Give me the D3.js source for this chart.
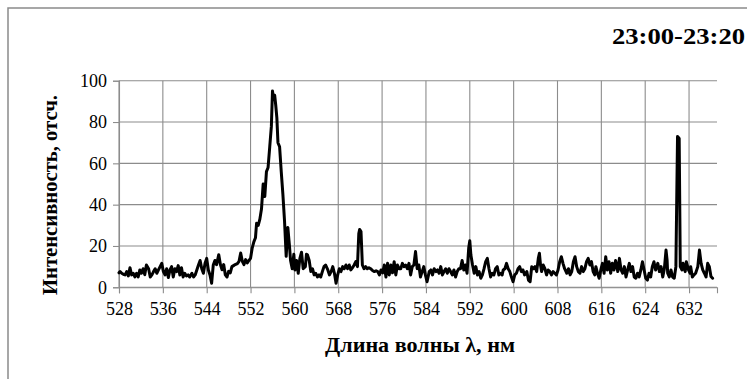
<!DOCTYPE html>
<html>
<head>
<meta charset="utf-8">
<script src="https://cdn.jsdelivr.net/npm/d3@7"></script>
<style>
  html, body { margin: 0; padding: 0; background: #fff; }
  svg { display: block; }
  .tick text { font-family: "Liberation Serif", "Times New Roman", serif; font-size: 18px; fill: #000; }
</style>
</head>
<body>
<svg id="chart" width="747" height="379"></svg>
<script>
// Spectrum, 23:00-23:20: wavelength (nm) and intensity (counts)
const wavelength = [
  528.0, 528.2, 528.5, 528.8, 529.1, 529.4, 529.7, 530.0, 530.3, 530.6,
  530.9, 531.2, 531.5, 531.8, 532.1, 532.4, 532.7, 533.0, 533.4, 533.7,
  534.0, 534.3, 534.6, 534.9, 535.2, 535.5, 535.8, 536.1, 536.4, 536.7,
  537.0, 537.3, 537.6, 537.9, 538.2, 538.5, 538.8, 539.1, 539.4, 539.7,
  540.0, 540.3, 540.6, 540.9, 541.3, 541.6, 541.9, 542.2, 542.5, 542.8,
  543.1, 543.4, 543.7, 544.0, 544.3, 544.6, 544.9, 545.2, 545.5, 545.8,
  546.2, 546.5, 546.8, 547.1, 547.4, 547.7, 548.0, 548.3, 548.6, 548.9,
  549.2, 549.6, 549.9, 550.2, 550.5, 550.8, 551.1, 551.4, 551.7, 552.0,
  552.3, 552.6, 552.9, 553.1, 553.4, 553.7, 554.0, 554.3, 554.6, 554.9,
  555.2, 555.5, 555.8, 556.0, 556.2, 556.4, 556.6, 556.8, 557.0, 557.3,
  557.6, 557.9, 558.2, 558.5, 558.8, 559.1, 559.3, 559.6, 559.9, 560.1,
  560.4, 560.7, 561.0, 561.3, 561.6, 562.0, 562.2, 562.4, 562.7, 563.0,
  563.3, 563.6, 563.9, 564.2, 564.5, 564.8, 565.1, 565.4, 565.7, 566.1,
  566.4, 566.7, 567.0, 567.3, 567.6, 567.9, 568.2, 568.5, 568.8, 569.1,
  569.4, 569.7, 570.0, 570.3, 570.6, 570.9, 571.2, 571.5, 571.75, 571.9,
  572.15, 572.4, 572.7, 573.0, 573.3, 573.6, 573.9, 574.3, 574.6, 574.9,
  575.2, 575.5, 575.8, 576.1, 576.4, 576.7, 577.0, 577.3, 577.6, 577.9,
  578.2, 578.5, 578.8, 579.1, 579.4, 579.7, 580.0, 580.3, 580.6, 580.9,
  581.2, 581.5, 581.8, 582.1, 582.4, 582.7, 583.0, 583.3, 583.6, 583.9,
  584.2, 584.6, 584.9, 585.2, 585.5, 585.8, 586.1, 586.4, 586.7, 587.0,
  587.3, 587.6, 587.9, 588.2, 588.5, 588.8, 589.1, 589.4, 589.7, 590.0,
  590.3, 590.6, 590.9, 591.2, 591.5, 591.8, 592.0, 592.2, 592.5, 592.8,
  593.1, 593.4, 593.7, 594.0, 594.3, 594.6, 594.9, 595.2, 595.5, 595.8,
  596.1, 596.4, 596.7, 597.0, 597.3, 597.6, 597.9, 598.1, 598.4, 598.7,
  599.0, 599.3, 599.6, 599.9, 600.2, 600.5, 600.8, 601.1, 601.4, 601.7,
  602.0, 602.4, 602.7, 603.0, 603.3, 603.6, 603.9, 604.2, 604.5, 604.7,
  604.9, 605.1, 605.4, 605.7, 606.0, 606.3, 606.6, 606.9, 607.2, 607.5,
  607.8, 608.1, 608.4, 608.7, 609.0, 609.3, 609.7, 610.0, 610.3, 610.6,
  610.9, 611.2, 611.5, 611.8, 612.1, 612.4, 612.7, 613.0, 613.3, 613.6,
  613.9, 614.2, 614.5, 614.8, 615.0, 615.3, 615.6, 615.9, 616.2, 616.5,
  616.8, 617.1, 617.4, 617.7, 618.0, 618.3, 618.6, 619.0, 619.3, 619.6,
  619.9, 620.2, 620.5, 620.8, 621.1, 621.4, 621.7, 622.0, 622.3, 622.6,
  622.9, 623.2, 623.5, 623.8, 624.1, 624.4, 624.7, 625.0, 625.3, 625.6,
  625.9, 626.3, 626.6, 626.9, 627.2, 627.5, 627.8, 628.0, 628.1, 628.4,
  628.7, 629.0, 629.3, 629.6, 629.9, 630.2, 630.4, 630.7, 630.9, 631.3,
  631.5, 631.9, 632.2, 632.3, 632.6, 632.9, 633.2, 633.6, 633.9, 634.2,
  634.5, 634.8, 635.1, 635.4, 635.7, 636.0, 636.3
];
const intensity = [
  7, 7.6, 6.8, 6.3, 6, 7.6, 5.5, 9.5, 6, 6.8,
  5, 6.8, 5, 8.4, 6.8, 9, 6.1, 10.8, 9, 5,
  6, 7.6, 9, 6.8, 8.4, 10, 11.6, 7.6, 6, 9,
  4.7, 8.4, 10, 5, 9, 7.6, 10.5, 6, 9.5, 5,
  6.8, 5.5, 6, 5, 6.8, 5, 6, 8.4, 10.8, 13,
  9, 6.8, 11.6, 14, 8.4, 6, 2, 10.8, 13, 11,
  15.8, 11, 8.5, 11, 6, 5, 7.7, 7, 10, 10.5,
  11, 11.5, 12.6, 16.6, 12.6, 11, 13.4, 11.8, 13, 14,
  19, 22, 24, 31, 30, 33, 38, 50, 44, 56,
  58, 68, 78, 95, 91, 93, 88, 82, 70, 68,
  56, 45, 32, 15, 29, 20, 13, 9, 16, 8.4,
  13, 6.8, 14, 17, 9, 10, 16, 15.6, 13, 7.6,
  9, 6, 6.8, 5, 6, 5, 7.6, 10, 10.8, 8.4,
  6, 7.6, 10, 6.8, 2, 6, 9, 7.6, 10, 9,
  10.8, 9, 10.8, 8.4, 9.5, 10.8, 12.4, 10, 26, 28,
  27, 10.8, 9, 10, 9, 9.5, 9, 8, 7.6, 8,
  7.6, 6, 8.4, 7, 10.8, 5, 11.6, 6, 10.8, 7,
  12.4, 6, 10.8, 9, 9, 11.6, 10, 10.8, 9, 11.6,
  6, 10, 10.8, 17.3, 9, 10.8, 5, 7.6, 10, 6,
  2.7, 7.6, 8.4, 6, 9, 7.6, 8.4, 6.8, 10, 6,
  7.6, 9, 6.8, 9, 7.6, 6, 8.4, 5, 7.6, 9,
  9, 13, 8.4, 10.8, 6.8, 19, 22.5, 15.6, 10.8, 6.8,
  10, 6, 7.6, 4.4, 6, 9, 12.4, 14, 9, 5,
  6.8, 6, 9, 10, 6, 6.8, 6, 8.4, 9, 11.6,
  9, 7.6, 5, 2.7, 6, 6.8, 9, 10, 7.6, 8.4,
  6, 7.6, 3.5, 2.7, 10, 9, 10, 7.6, 14, 16.5,
  10.8, 7.6, 10.8, 9, 6, 8.4, 7.6, 6, 7.6, 6.8,
  6, 8.4, 12.4, 14.8, 11.6, 9, 6.8, 9, 6, 7.6,
  12.4, 14.8, 10, 7.6, 6.8, 10, 7.6, 9, 12.4, 14,
  10.8, 12.4, 7.6, 6, 10, 6.8, 4.4, 8.4, 11.6, 6.8,
  14.8, 8.4, 12.4, 6.8, 11.6, 8.4, 13, 7.6, 14, 8.4,
  6.8, 10, 5, 8.4, 11.6, 7.6, 10, 5, 4.4, 6.8,
  5, 8.4, 12.4, 8.4, 4.4, 3.5, 6.8, 5, 10, 12.4,
  8.4, 11.6, 7.6, 10, 5, 9, 18, 13, 6.8, 5,
  8.4, 5, 4.4, 10, 73, 72, 10, 8.4, 11.6, 7.6,
  12.4, 8.4, 6.8, 10, 5, 6, 6.8, 10, 18, 11.6,
  8.4, 6.8, 5, 11.6, 10, 5.2, 4.4
];
const xTicks = [528, 536, 544, 552, 560, 568, 576, 584, 592, 600, 608, 616, 624, 632];
const yTicks = [0, 20, 40, 60, 80, 100];
const xRange = [528, 637.1];
const yRange = [0, 100];

const titleText = "23:00-23:20";
const xTitle = "Длина волны λ, нм";
const yTitle = "Интенсивность, отсч.";

const svg = d3.select("#chart");
const plot = { left: 119, right: 717, top: 80.7, bottom: 287.3 };
const gridColor = "#8c8c8c";
const serif = '"Liberation Serif", "Times New Roman", serif';

const x = d3.scaleLinear().domain(xRange).range([plot.left, plot.right]);
const y = d3.scaleLinear().domain(yRange).range([plot.bottom, plot.top]);

// outer frame (top and left edges visible)
svg.append("path")
  .attr("d", "M8,379 L8,8 L747,8")
  .attr("fill", "none")
  .attr("stroke", "#8a8a8a")
  .attr("stroke-width", 1.5);

// grid
const grid = svg.append("g").attr("stroke", gridColor).attr("stroke-width", 1.1);
grid.selectAll("line.h").data(yTicks).join("line")
  .attr("class", "h")
  .attr("x1", plot.left).attr("x2", plot.right)
  .attr("y1", d => y(d)).attr("y2", d => y(d));
grid.selectAll("line.v").data(xTicks).join("line")
  .attr("class", "v")
  .attr("x1", d => x(d)).attr("x2", d => x(d))
  .attr("y1", plot.top).attr("y2", plot.bottom);

// axes
const xAxis = svg.append("g")
  .attr("transform", `translate(0,${plot.bottom})`)
  .call(d3.axisBottom(x).tickValues(xTicks).tickSize(6).tickPadding(9).tickFormat(d3.format("d")));
const yAxis = svg.append("g")
  .attr("transform", `translate(${plot.left},0)`)
  .call(d3.axisLeft(y).tickValues(yTicks).tickSize(6).tickPadding(6).tickFormat(d3.format("d")));
[xAxis, yAxis].forEach(g => {
  g.select(".domain").attr("stroke", gridColor).attr("stroke-width", 1.1);
  g.selectAll(".tick line").attr("stroke", gridColor).attr("stroke-width", 1.1);
  g.attr("font-family", null).attr("font-size", null);
});

// spectrum line
const points = wavelength.map((w, i) => [w, intensity[i]]);
svg.append("path")
  .datum(points)
  .attr("fill", "none")
  .attr("stroke", "#000")
  .attr("stroke-width", 3)
  .attr("stroke-linejoin", "round")
  .attr("stroke-linecap", "round")
  .attr("d", d3.line().x(d => x(d[0])).y(d => y(d[1])));

// titles
svg.append("text")
  .attr("x", 745).attr("y", 44)
  .attr("text-anchor", "end")
  .attr("font-family", serif).attr("font-weight", "bold").attr("font-size", 24)
  .attr("textLength", 133).attr("lengthAdjust", "spacingAndGlyphs")
  .text(titleText);

svg.append("text")
  .attr("x", 420).attr("y", 352)
  .attr("text-anchor", "middle")
  .attr("font-family", serif).attr("font-weight", "bold").attr("font-size", 21)
  .attr("textLength", 190).attr("lengthAdjust", "spacingAndGlyphs")
  .text(xTitle);

svg.append("text")
  .attr("transform", "translate(57,195) rotate(-90)")
  .attr("text-anchor", "middle")
  .attr("font-family", serif).attr("font-weight", "bold").attr("font-size", 21)
  .attr("textLength", 200).attr("lengthAdjust", "spacingAndGlyphs")
  .text(yTitle);
</script>
</body>
</html>
